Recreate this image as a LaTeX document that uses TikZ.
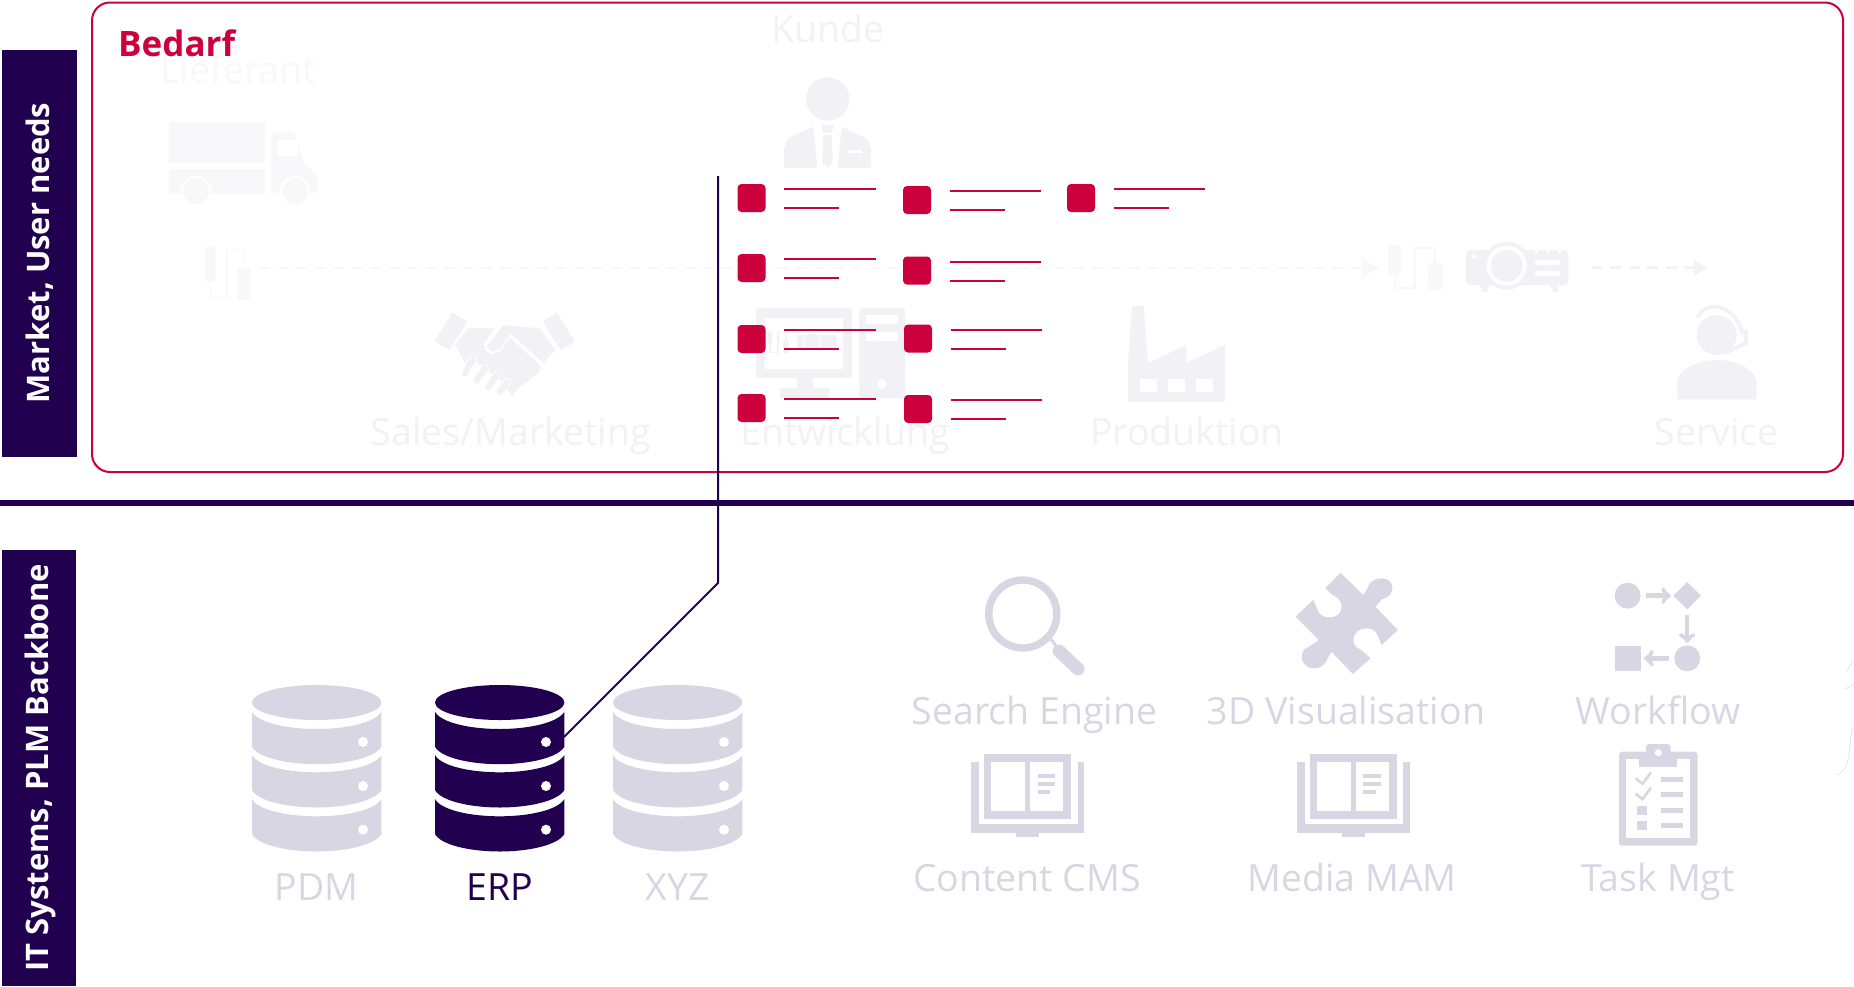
\documentclass[tikz,border=0pt]{standalone}
\usepackage{fontspec}
\setmainfont{Open Sans}
\usepackage{xcolor}
\definecolor{plmdark}{HTML}{20004F}
\definecolor{plmred}{HTML}{CC003D}
\definecolor{plmpale}{HTML}{D9D6E4}
\definecolor{plmghost}{HTML}{F1F1F6}
\definecolor{plmfaint}{HTML}{F8F8FA}
\tikzset{
  sidebar/.style={fill=plmdark},
  sidetext/.style={text=white,font=\fontsize{31}{34}\selectfont\bfseries,rotate=90},
  paletext/.style={text=plmpale,anchor=base,font=\fontsize{37.5}{40}\selectfont},
  ghosttext/.style={text=plmghost,anchor=base,font=\fontsize{37.5}{40}\selectfont},
  needline/.style={plmred,line width=2},
  wfarrow/.style={plmpale,line width=4.5,->},
  ghostdash/.style={line width=2.5,dash pattern=on 11pt off 7.5pt},
}
% one request mark with its two text lines
\newcommand{\needmark}[3]{
  \fill[plmred,rounded corners=4] (#1,#2) rectangle ++(28,28);
  \draw[needline] (#1+46.5,#3) -- ++(91.5,0);
  \draw[needline] (#1+46.5,#3+19) -- ++(55,0);
}
% database stack
\newcommand{\dbstack}[2]{
  \begin{scope}[shift={(#1,0)}]
    \fill[#2] (64.7,702.5) ellipse (64.7 and 17.5);
    \foreach \y in {711.7,755,799} {
      \fill[#2] (0,\y) .. controls (6,\y+11) and (35,\y+17.3) .. (64.7,\y+17.3)
        .. controls (94,\y+17.3) and (123,\y+11) .. (129.4,\y) -- (129.4,\y+35)
        .. controls (123,\y+46) and (94,\y+52.5) .. (64.7,\y+52.5)
        .. controls (35,\y+52.5) and (6,\y+46) .. (0,\y+35) -- cycle;
    }
    \foreach \y in {742,786,829.7}
      \fill[white] (111,\y) circle (5);
  \end{scope}
}
% opened book
\newcommand{\bookicon}[1]{
  \begin{scope}[shift={(#1,0)}]
    \fill[plmpale] (971,761.7) rectangle (1084,832.7);
    \fill[plmpale] (1016,832) rectangle (1038.7,836.7);
    \fill[white] (979,761.7) rectangle (1077.5,824);
    \fill[plmpale] (984,754) rectangle (1070.7,818.7);
    \fill[white] (991.4,761.7) rectangle (1025.2,810.7);
    \fill[white] (1030,761.7) rectangle (1063.3,810.7);
    \draw[plmpale,line width=4] (1037.5,776) -- (1055.3,776);
    \draw[plmpale,line width=4] (1037.5,784) -- (1055.3,784);
    \draw[plmpale,line width=4] (1037.5,791.5) -- (1050,791.5);
  \end{scope}
}
% usb cable
\newcommand{\plugicon}[5]{
  \begin{scope}[shift={(#1,#2)},xscale=#3,yscale=#4]
    \fill[#5,rounded corners=3] (0,0) rectangle (13,30);
    \draw[#5,line width=1.5] (7,30) -- (7,43) -- (27,43) -- (27,3) -- (47,3) -- (47,18);
    \fill[#5,rounded corners=3] (40,18) rectangle (55,45);
  \end{scope}
}
\begin{document}
\begin{tikzpicture}[x=1pt,y=-1pt]
  \useasboundingbox (0,0) rectangle (1854,986);

  % far right scrap
  \draw[black!9,line width=1] (1853,660) -- (1846.7,671.7);
  \draw[black!9,line width=1] (1845,689) -- (1853.3,685);
  \draw[black!9,line width=1] (1853,726.7) .. controls (1848,745) and (1852,770) .. (1836.7,775);

  % supplier
  \node[text=plmfaint,anchor=base,font=\fontsize{37.5}{40}\selectfont] (lieferant) at (238,83.3) {Lieferant};
  \fill[plmfaint] (169,121.7) rectangle (264.5,163.3);
  \fill[plmfaint] (169,169.3) rectangle (264.5,194);
  \fill[plmfaint,rounded corners=5] (270.8,131.7) -- (295,131.7) -- (304,165) -- (318.5,175) -- (318.5,193) -- (270.8,193) -- cycle;
  \fill[white] (278,140) rectangle (298,156);
  \filldraw[plmfaint,draw=white,line width=2] (196,191) circle (14);
  \filldraw[plmfaint,draw=white,line width=2] (295,191) circle (14);
  \plugicon{205}{246}{0.82}{1.2}{plmfaint}
  \draw[plmfaint,ghostdash] (259,268) -- (1362,268);
  \fill[plmfaint] (1362,259) -- (1379.4,268) -- (1362,277) -- cycle;

  % customer
  \node[ghosttext] (kunde) at (827.7,42.7) {Kunde};
  \fill[plmghost] (827.7,99) circle (21.7);
  \fill[plmghost] (784,167.7) -- (784,148.3) -- (788.3,138.3) -- (813.3,126.7) -- (817.3,167.7) -- cycle;
  \fill[plmghost] (841.7,126.7) -- (866.7,138.3) -- (871,148.3) -- (871,167.7) -- (837.7,167.7) -- cycle;
  \fill[plmghost] (821,125) -- (834,125) -- (831.7,132.7) -- (823.3,132.7) -- cycle;
  \fill[plmghost] (823.3,135) -- (831.7,135) -- (832.7,162.7) -- (827.7,167.7) -- (822.3,162.7) -- cycle;
  \fill[white] (848.3,150) rectangle (861.7,152.7);

  % sales
  \begin{scope}[shift={(420,300)},x=0.3333pt,y=-0.3333pt]
    \fill[plmghost,rounded corners=1] (97,37) -- (142,65) -- (88,150) -- (44,125) -- cycle;
    \fill[plmghost,rounded corners=1] (410,37) -- (465,125) -- (422,150) -- (368,65) -- cycle;
    \fill[plmghost] (250,75) -- (360,85) -- (405,150) -- (370,190) -- (272,100) -- (240,148) -- (215,155) -- (200,140) -- cycle;
    \fill[plmghost] (105,135) -- (145,85) -- (225,85) -- (192,130) -- (195,150) -- (215,165) -- (240,155) -- (270,112) -- (362,198) -- (360,215) -- (335,235) -- (315,250) -- (290,270) -- (278,290) -- (240,240) -- (150,170) -- (135,188) -- cycle;
    \foreach \a/\b/\c/\d in {160/175/135/220,195/205/170/240,230/225/205/262,262/245/240/275}
      \draw[white,line width=8,line cap=round] (\a,\b) -- (\c,\d);
    \foreach \a/\b/\c/\d in {160/175/135/220,195/205/170/240,230/225/205/262,262/245/240/275}
      \draw[plmghost,line width=6,line cap=round] (\a,\b) -- (\c,\d);
  \end{scope}
  \node[ghosttext] (sales) at (510.8,445) {Sales/Marketing};

  % development
  \fill[plmghost,rounded corners=3] (756,308) rectangle (852,378);
  \fill[white] (765,318) rectangle (843,369);
  \fill[plmghost] (797,378) rectangle (813,388);
  \fill[plmghost] (780,388) rectangle (829,398);
  \fill[plmghost,rounded corners=3] (859,308) rectangle (905,398);
  \fill[white] (866,315) rectangle (898,324);
  \fill[white] (866,332) rectangle (898,341);
  \fill[white] (882,384) circle (5);
  \plugicon{767}{331}{0.4}{0.5}{plmghost}
  \fill[plmghost,rounded corners=1] (797,335) rectangle (836,350);
  \filldraw[plmghost,draw=white,line width=1] (812,342) circle (9);
  \node[ghosttext] (entw) at (845,445) {Entwicklung};

  % production
  \fill[plmghost] (1132,306) -- (1143.7,306) -- (1147.7,363) -- (1186.3,345) -- (1186.3,363) -- (1225,345) -- (1225,401.7) -- (1128,401.7) -- (1128,363) -- cycle;
  \foreach \x in {1139.6,1168,1196}
    \fill[white] (\x,379) rectangle ++(17.4,13);
  \node[ghosttext] (prod) at (1187,445) {Produktion};

  % delivery to service
  \plugicon{1388}{245}{1}{1}{plmfaint}
  \fill[plmghost,rounded corners=4] (1466,250) rectangle (1568.3,285);
  \fill[plmghost] (1506.7,265.7) circle (24);
  \draw[white,line width=4] (1506.7,265.7) circle (18);
  \fill[white] (1474,256.7) circle (2.2);
  \fill[white,rounded corners=2] (1535,260) rectangle (1560,265);
  \fill[white,rounded corners=2] (1535,271) rectangle (1560,276);
  \foreach \x in {1535,1546,1558}
    \fill[white] (\x,250) rectangle ++(3,3);
  \fill[plmghost] (1480,285) -- (1490,285) -- (1487,292) -- (1483,292) -- cycle;
  \fill[plmghost] (1550,285) -- (1556.7,285) -- (1558.3,292) -- (1553.3,292) -- cycle;
  \draw[plmghost,ghostdash] (1591.5,267.7) -- (1693.5,267.7);
  \fill[plmghost] (1693.5,260) -- (1708,267.7) -- (1693.5,275.5) -- cycle;

  % service
  \fill[plmghost] (1716.6,335) circle (20);
  \draw[plmghost,line width=3.5] (1697,318) .. controls (1705,300) and (1735,302) .. (1743,335);
  \draw[plmghost,line width=4] (1746,330) -- (1746,343) -- (1725,353);
  \fill[plmghost] (1677.4,399.3) -- (1677.4,380) .. controls (1680,368) and (1700,360) .. (1716.6,360) .. controls (1735,360) and (1753,368) .. (1756.3,380) -- (1756.3,399.3) -- cycle;
  \node[ghosttext] (service) at (1716.6,445) {Service};

  % frame and sidebars
  \draw[plmred,line width=2,rounded corners=18] (92,2.5) rectangle (1843,472);
  \node[text=plmred,anchor=base west,inner sep=0,font=\fontsize{35}{38}\selectfont\bfseries] (bedarf) at (118,56) {Bedarf};
  \fill[sidebar] (2,50) rectangle (76.7,456.7);
  \node[sidetext] (market) at (40,253) {Market, User needs};
  \fill[sidebar] (1.5,549.5) rectangle (76,985.5);
  \node[sidetext] (itsys) at (40,768) {IT Systems, PLM Backbone};
  \draw[plmdark,line width=6] (0,503) -- (1854,503);

  % backbone databases
  \dbstack{252}{plmpale}
  \dbstack{435}{plmdark}
  \dbstack{613}{plmpale}
  \node[paletext] (pdm) at (316.4,900) {PDM};
  \node[paletext,text=plmdark] (erp) at (500,900) {ERP};
  \node[paletext] (xyz) at (677.5,900) {XYZ};

  % search engine
  \draw[plmpale,line width=7.4] (1022.8,614) circle (34);
  \draw[plmpale,line width=3] (1050,638) -- (1059,650);
  \draw[plmpale,line width=13,line cap=round] (1059,651) -- (1078,669);
  \node[paletext] (search) at (1034.4,724) {Search Engine};

  % 3d
  \fill[plmpale] (1340.5,572.7) -- (1363.3,595)
    .. controls (1368,590) and (1368,578.3) .. (1381.7,578.3)
    .. controls (1395,578.3) and (1397,596) .. (1381.7,599.3)
    -- (1375.5,606.7) -- (1397.7,630) -- (1381.7,645)
    .. controls (1378,638) and (1378,628.3) .. (1366.3,628.3)
    .. controls (1352,628.3) and (1349,646) .. (1360.2,649.3)
    -- (1370.6,658.3) -- (1352.8,674) -- (1331.3,651.7)
    .. controls (1327,658) and (1326,668.3) .. (1314,668.3)
    .. controls (1300,668.3) and (1298,650) .. (1308,647.3)
    -- (1319,640) -- (1295.6,616.7) -- (1312.9,600)
    .. controls (1318,606) and (1316,617.3) .. (1329.5,617.3)
    .. controls (1344,617.3) and (1346,600) .. (1332.5,595)
    -- (1325.2,588.3) -- cycle;
  \node[paletext] (visual) at (1346,724) {3D Visualisation};

  % workflow
  \fill[plmpale] (1627.6,595.7) circle (13);
  \fill[plmpale] (1687.2,582) -- (1701,595.7) -- (1687.2,609.4) -- (1673.4,595.7) -- cycle;
  \fill[plmpale] (1615.3,645.7) rectangle (1641,671);
  \fill[plmpale] (1687.2,658.3) circle (13);
  \draw[wfarrow] (1646,595.7) -- (1671,595.7);
  \draw[wfarrow] (1687.2,615) -- (1687.2,643);
  \draw[wfarrow] (1669.3,658.3) -- (1644,658.3);
  \node[paletext] (flow) at (1658.3,724) {Workflow};

  % content and media
  \bookicon{0}
  \node[paletext] (cms) at (1027,891.7) {Content CMS};
  \bookicon{325.8}
  \node[paletext] (mam) at (1352,891.7) {Media MAM};

  % tasks
  \fill[plmpale,rounded corners=3] (1619,751.7) rectangle (1697.6,845.7);
  \fill[white] (1626.3,759) rectangle (1690,837.7);
  \fill[plmpale] (1638.6,755) rectangle (1676.7,767.3);
  \fill[plmpale,rounded corners=3] (1646,744) rectangle (1670.6,755);
  \fill[white] (1658.3,752.7) circle (3.5);
  \foreach \y in {779.3,794.7,810,825}
    \fill[plmpale] (1660.8,\y-2.5) rectangle (1683,\y+2.5);
  \foreach \y in {778.3,793.6}
    \draw[plmpale,line width=2.6] (1635.5,\y) -- (1642.5,\y+5.5) -- (1651,\y-6);
  \foreach \y in {810,825}
    \fill[plmpale] (1637.4,\y-4.5) rectangle (1646.6,\y+4.5);
  \node[paletext] (task) at (1658,891.7) {Task Mgt};

  % link from ERP up into the needs
  \coordinate (erpport) at (564,737);
  \coordinate (erpbend) at (718,583);
  \coordinate (erptop) at (718,176);
  \draw[plmdark,line width=2] (erpport) -- (erpbend) -- (erptop);

  % requests
  \needmark{737.5}{184}{189.3}
  \needmark{737.5}{254}{259.3}
  \needmark{737.5}{325}{330.3}
  \needmark{737.5}{394}{399.3}
  \needmark{903}{186}{191.3}
  \needmark{903}{256.5}{261.7}
  \needmark{904}{324.5}{329.7}
  \needmark{904}{395}{400}
  \needmark{1067}{184}{189.3}
\end{tikzpicture}
\end{document}
